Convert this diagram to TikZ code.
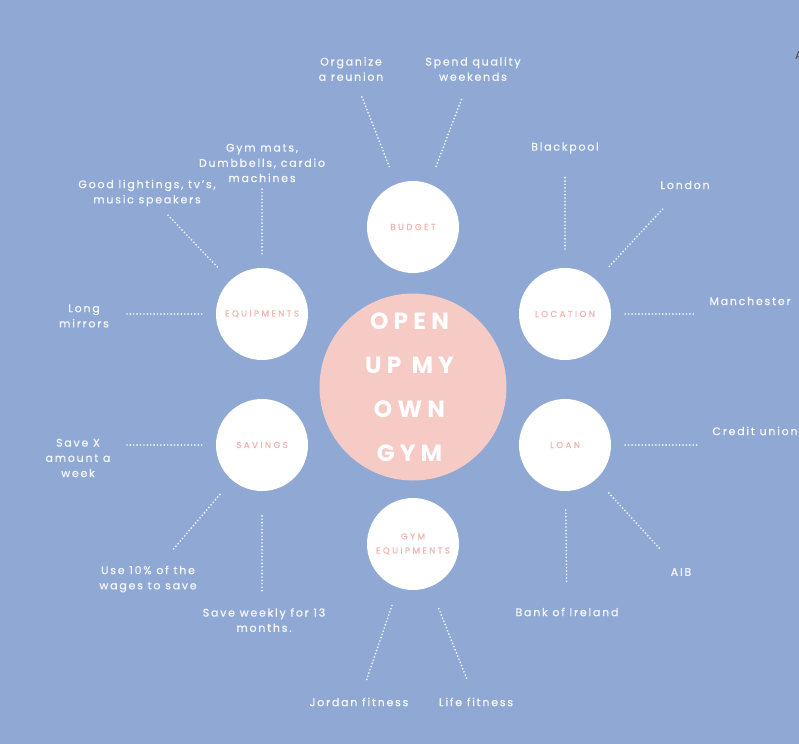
\documentclass[tikz,border=0pt]{standalone}
\usepackage{fontspec}
\setmainfont{Poppins}
\newfontfamily\hubfont[LetterSpace=22]{Poppins}
\newfontfamily\capfont[LetterSpace=28, FakeBold=0.4]{Poppins}
\newfontfamily\leaffont[LetterSpace=16, FakeBold=0.6]{Poppins}
\usepackage{tikz}

\definecolor{bgblue}{RGB}{143,169,212}
\definecolor{hubpink}{RGB}{246,202,197}
\definecolor{tagpink}{RGB}{243,180,174}
\definecolor{leafwhite}{RGB}{246,247,250}

\begin{document}
\begin{tikzpicture}[
  x=0.03cm, y=-0.03cm,
  hub/.style={circle, fill=hubpink, minimum size=5.61cm, inner sep=0pt,
              text=white, align=center,
              font=\hubfont\bfseries\fontsize{20}{37.5}\selectfont},
  topic/.style={circle, fill=white, minimum size=2.76cm, inner sep=0pt,
                text=tagpink, align=center,
                font=\capfont\fontsize{7.4}{12}\selectfont},
  leaf/.style={text=leafwhite, align=center, inner sep=2pt,
               font=\leaffont\fontsize{9.4}{13}\selectfont},
  dotl/.style={draw=leafwhite, line width=1.6pt, line cap=round,
               dash pattern=on 0pt off 2.9pt, shorten <=16pt},
]
%% ─── Background ───────────────────────────────────────────────────────────────
\fill[bgblue] (0,0) rectangle (799,744);
\useasboundingbox (0,0) rectangle (799,744);
\node[anchor=west, text=black!70, font=\fontsize{10}{12}\selectfont, inner sep=0pt]
  (corner) at (795,55) {A};

%% ─── Hub and topics ───────────────────────────────────────────────────────────
\node[hub] (gym) at (413,387) {\hspace*{-6pt}OPEN\\\hspace*{-6pt}UP MY\\\hspace*{-6pt}OWN\\\hspace*{-6pt}GYM};

\node[topic] (budget) at (413,227) {BUDGET};
\node[topic] (equip)  at (262,314) {EQUIPMENTS};
\node[topic] (loc)    at (565,314) {LOCATION};
\node[topic] (save)   at (262,445) {SAVINGS};
\node[topic] (loan)   at (565,445) {LOAN};
\node[topic] (gymeq)  at (413,544) {GYM\\EQUIPMENTS};

%% ─── Budget ───────────────────────────────────────────────────────────────────
\node[leaf] (reun)  at (351,69) {Organize\\a reunion};
\node[leaf] (wknd)  at (473,69) {Spend quality\\weekends};
\draw[dotl, shorten >=10pt] (budget) -- (reun);
\draw[dotl, shorten >=12pt] (budget) -- (wknd);

%% ─── Location ─────────────────────────────────────────────────────────────────
\node[leaf] (bpool) at (565,148) {Blackpool};
\node[leaf] (lond)  at (685,185) {London};
\node[leaf] (manch) at (750,301) {Manchester};
\draw[dotl, shorten >=16pt] (loc) -- (bpool);
\draw[dotl, shorten >=19pt] (loc) -- (lond);
\draw[dotl, shorten <=12pt, shorten >=9pt] (loc) -- (loc -| manch.west);

%% ─── Loan ─────────────────────────────────────────────────────────────────────
\node[leaf] (cred)  at (755,431) {Credit union};
\node[leaf] (aib)   at (681,572) {AIB};
\node[leaf] (boi)   at (567,612) {Bank of Ireland};
\draw[dotl, shorten <=12pt, shorten >=9pt] (loan) -- (loan -| cred.west);
\draw[dotl, shorten >=18pt] (loan) -- (aib);
\draw[dotl, shorten >=19pt] (loan) -- (boi);

%% ─── Gym equipments ───────────────────────────────────────────────────────────
\node[leaf] (jord)  at (359,702) {Jordan fitness};
\node[leaf] (life)  at (476,702) {Life fitness};
\draw[dotl, shorten >=14pt] (gymeq) -- (jord);
\draw[dotl, shorten <=20pt, shorten >=13pt] (gymeq) -- (life);

%% ─── Savings ──────────────────────────────────────────────────────────────────
\node[leaf] (wkly)  at (264,620) {Save weekly for 13\\months.};
\node[leaf] (tenp)  at (148,579) {Use 10\% of the\\wages to save};
\node[leaf] (savx)  at (78,458)  {Save X\\amount a\\week};
\draw[dotl, shorten <=21pt, shorten >=10pt] (save) -- (save |- wkly.north);
\draw[dotl, shorten >=14pt] (save) -- (tenp);
\draw[dotl, shorten <=12pt, shorten >=10pt] (save) -- (save -| savx.east);

%% ─── Equipments ───────────────────────────────────────────────────────────────
\node[leaf] (mats)  at (262,163) {Gym mats,\\Dumbbells, cardio\\machines};
\node[leaf] (light) at (147,193) {Good lightings, tv’s,\\music speakers};
\node[leaf] (mirr)  at (84,316)  {Long\\mirrors};
\draw[dotl, shorten <=12pt, shorten >=1pt] (equip) -- (mats);
\draw[dotl, shorten >=7pt] (equip) -- (light);
\draw[dotl, shorten <=12pt, shorten >=12pt] (equip) -- (equip -| mirr.east);

\end{tikzpicture}
\end{document}
